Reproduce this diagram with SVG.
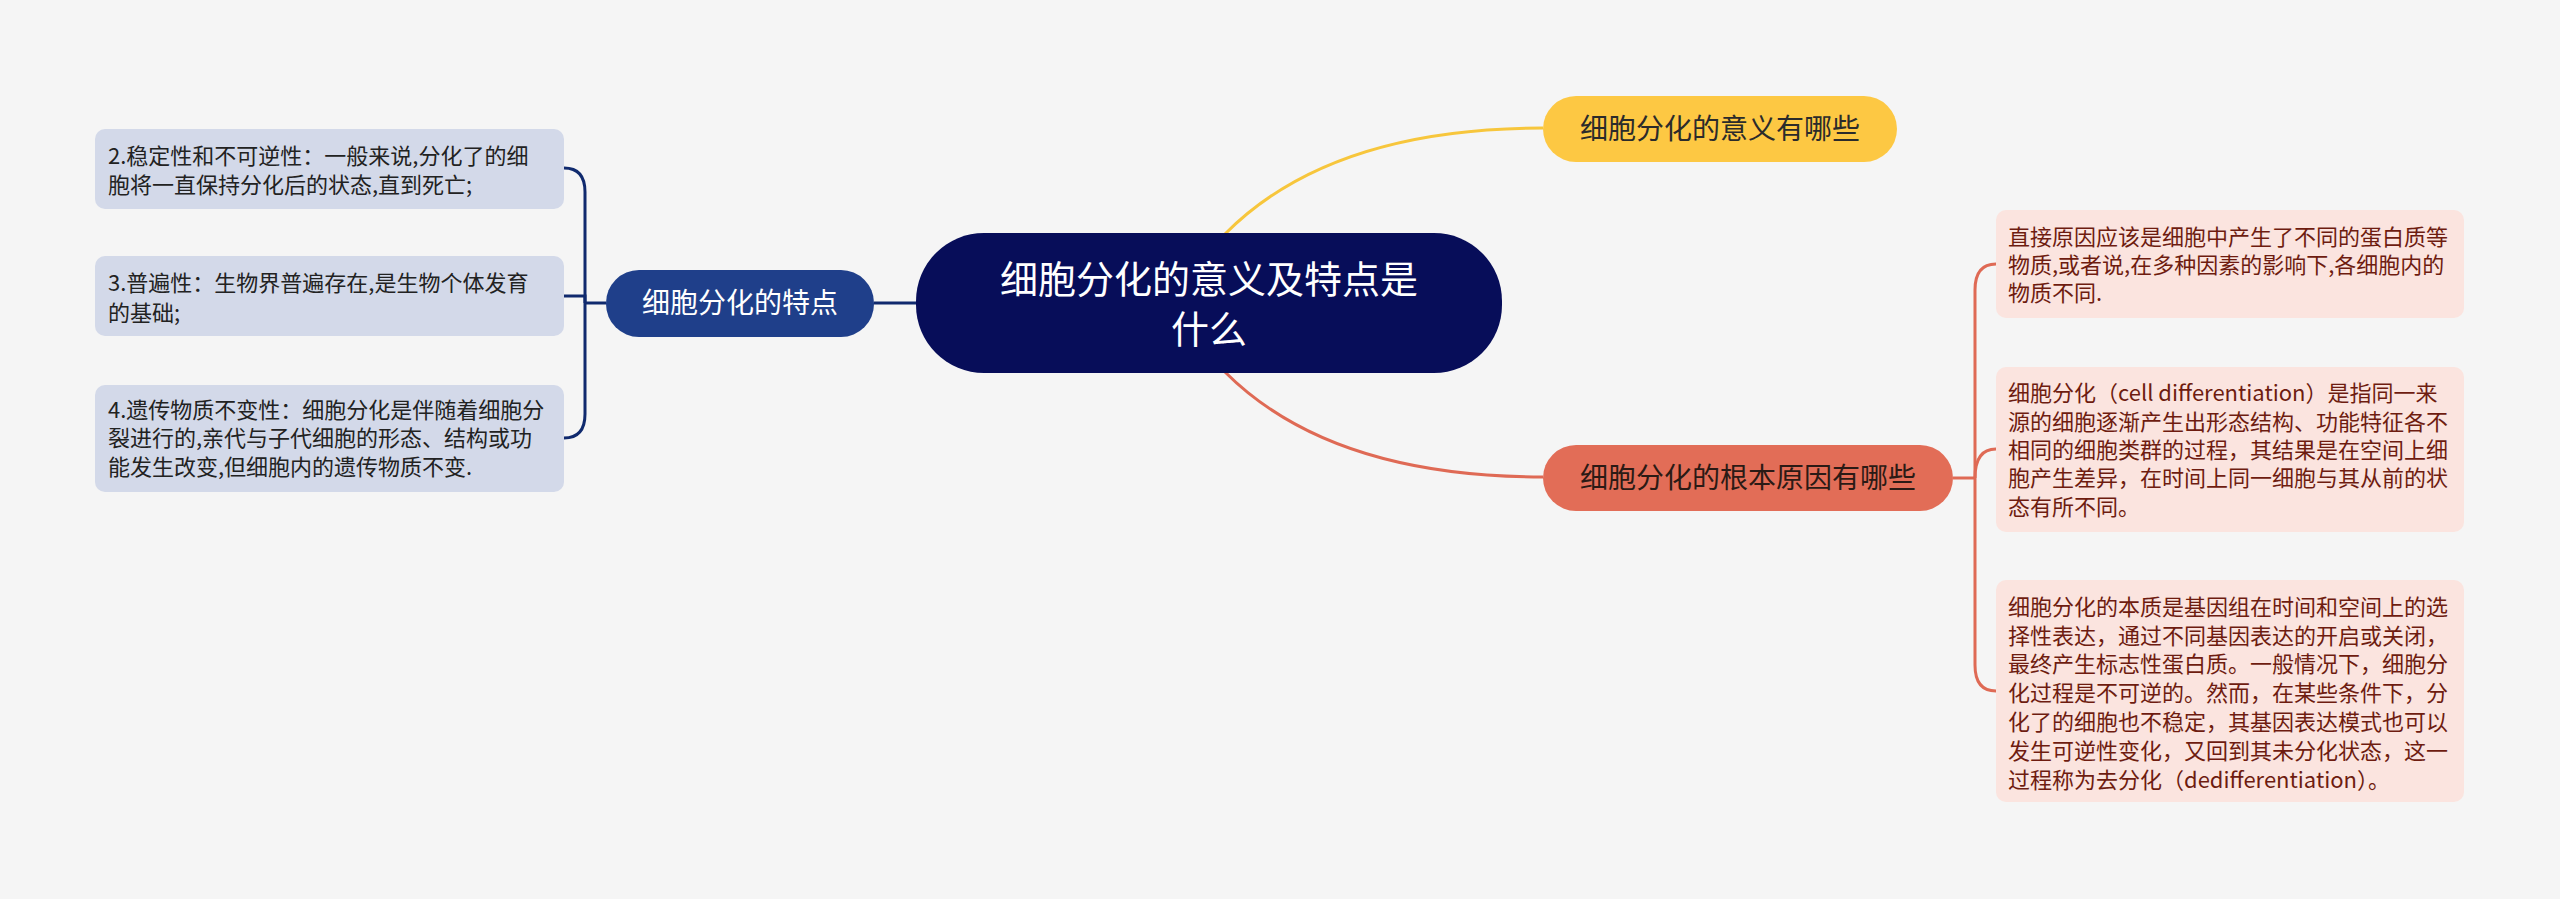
<svg xmlns="http://www.w3.org/2000/svg" width="2560" height="899" viewBox="0 0 2560 899">
<style>
text{font-family:"Noto Sans CJK SC","Liberation Sans",sans-serif}
.lb{fill:#d3d9e9}
.rb{fill:#fbe4df}
.lt{font-size:22px;fill:#222222}
.rt{font-size:22px;fill:#6e1c10}
.nav{fill:none;stroke:#102a6e;stroke-width:3}
.yel{fill:none;stroke:#f7c63c;stroke-width:3}
.red{fill:none;stroke:#df6a55;stroke-width:3}
</style>
<rect width="2560" height="899" fill="#f5f5f5"/>
<g id="connectors">
<path class="yel" d="M1225 234 Q1330 128 1543 128"/>
<path class="red" d="M1225 372 Q1330 477 1543 477"/>
<path class="nav" d="M874 303 H916"/>
<path class="nav" d="M606 303 H585"/>
<path class="nav" d="M585 303 L585 192 Q585 168 564 168"/>
<path class="nav" d="M585 303 L585 296 H564"/>
<path class="nav" d="M585 303 L585 414 Q585 438 564 438"/>
<path class="red" d="M1953 478 H1975"/>
<path class="red" d="M1975 478 L1975 290 Q1975 264 1996 264"/>
<path class="red" d="M1975 478 Q1975 449 1996 449"/>
<path class="red" d="M1975 478 L1975 665 Q1975 691 1996 691"/>
</g>
<g id="root">
<rect x="916" y="233" width="586" height="140" rx="68" fill="#070d59"/>
<text x="1209" y="293" font-size="38" fill="#ffffff" text-anchor="middle">细胞分化的意义及特点是</text>
<text x="1209" y="343" font-size="38" fill="#ffffff" text-anchor="middle">什么</text>
</g>
<g id="n-meaning">
<rect x="1543" y="96" width="354" height="66" rx="33" fill="#fdc843"/>
<text x="1720" y="139" font-size="28" fill="#2b2b2b" text-anchor="middle">细胞分化的意义有哪些</text>
</g>
<g id="n-cause">
<rect x="1543" y="445" width="410" height="66" rx="33" fill="#e26d57"/>
<text x="1748" y="488" font-size="28" fill="#2b1a15" text-anchor="middle">细胞分化的根本原因有哪些</text>
</g>
<g id="n-feature">
<rect x="606" y="270" width="268" height="67" rx="33" fill="#1f3f8a"/>
<text x="740" y="313" font-size="28" fill="#ffffff" text-anchor="middle">细胞分化的特点</text>
</g>
<g id="l1">
<rect class="lb" x="95" y="129" width="469" height="80" rx="10"/>
<text class="lt" x="108" y="164">2.稳定性和不可逆性：一般来说,分化了的细</text>
<text class="lt" x="108" y="193">胞将一直保持分化后的状态,直到死亡;</text>
</g>
<g id="l2">
<rect class="lb" x="95" y="256" width="469" height="80" rx="10"/>
<text class="lt" x="108" y="291">3.普遍性：生物界普遍存在,是生物个体发育</text>
<text class="lt" x="108" y="321">的基础;</text>
</g>
<g id="l3">
<rect class="lb" x="95" y="385" width="469" height="107" rx="10"/>
<text class="lt" x="108" y="418">4.遗传物质不变性：细胞分化是伴随着细胞分</text>
<text class="lt" x="108" y="446">裂进行的,亲代与子代细胞的形态、结构或功</text>
<text class="lt" x="108" y="475">能发生改变,但细胞内的遗传物质不变.</text>
</g>
<g id="r1">
<rect class="rb" x="1996" y="210" width="468" height="108" rx="10"/>
<text class="rt" x="2008" y="245">直接原因应该是细胞中产生了不同的蛋白质等</text>
<text class="rt" x="2008" y="273">物质,或者说,在多种因素的影响下,各细胞内的</text>
<text class="rt" x="2008" y="301">物质不同.</text>
</g>
<g id="r2">
<rect class="rb" x="1996" y="367" width="468" height="165" rx="10"/>
<text class="rt" x="2008" y="401">细胞分化（cell differentiation）是指同一来</text>
<text class="rt" x="2008" y="430">源的细胞逐渐产生出形态结构、功能特征各不</text>
<text class="rt" x="2008" y="458">相同的细胞类群的过程，其结果是在空间上细</text>
<text class="rt" x="2008" y="486">胞产生差异，在时间上同一细胞与其从前的状</text>
<text class="rt" x="2008" y="515">态有所不同。</text>
</g>
<g id="r3">
<rect class="rb" x="1996" y="580" width="468" height="222" rx="10"/>
<text class="rt" x="2008" y="615">细胞分化的本质是基因组在时间和空间上的选</text>
<text class="rt" x="2008" y="644">择性表达，通过不同基因表达的开启或关闭，</text>
<text class="rt" x="2008" y="672">最终产生标志性蛋白质。一般情况下，细胞分</text>
<text class="rt" x="2008" y="701">化过程是不可逆的。然而，在某些条件下，分</text>
<text class="rt" x="2008" y="730">化了的细胞也不稳定，其基因表达模式也可以</text>
<text class="rt" x="2008" y="759">发生可逆性变化，又回到其未分化状态，这一</text>
<text class="rt" x="2008" y="788">过程称为去分化（dedifferentiation）。</text>
</g>
</svg>
